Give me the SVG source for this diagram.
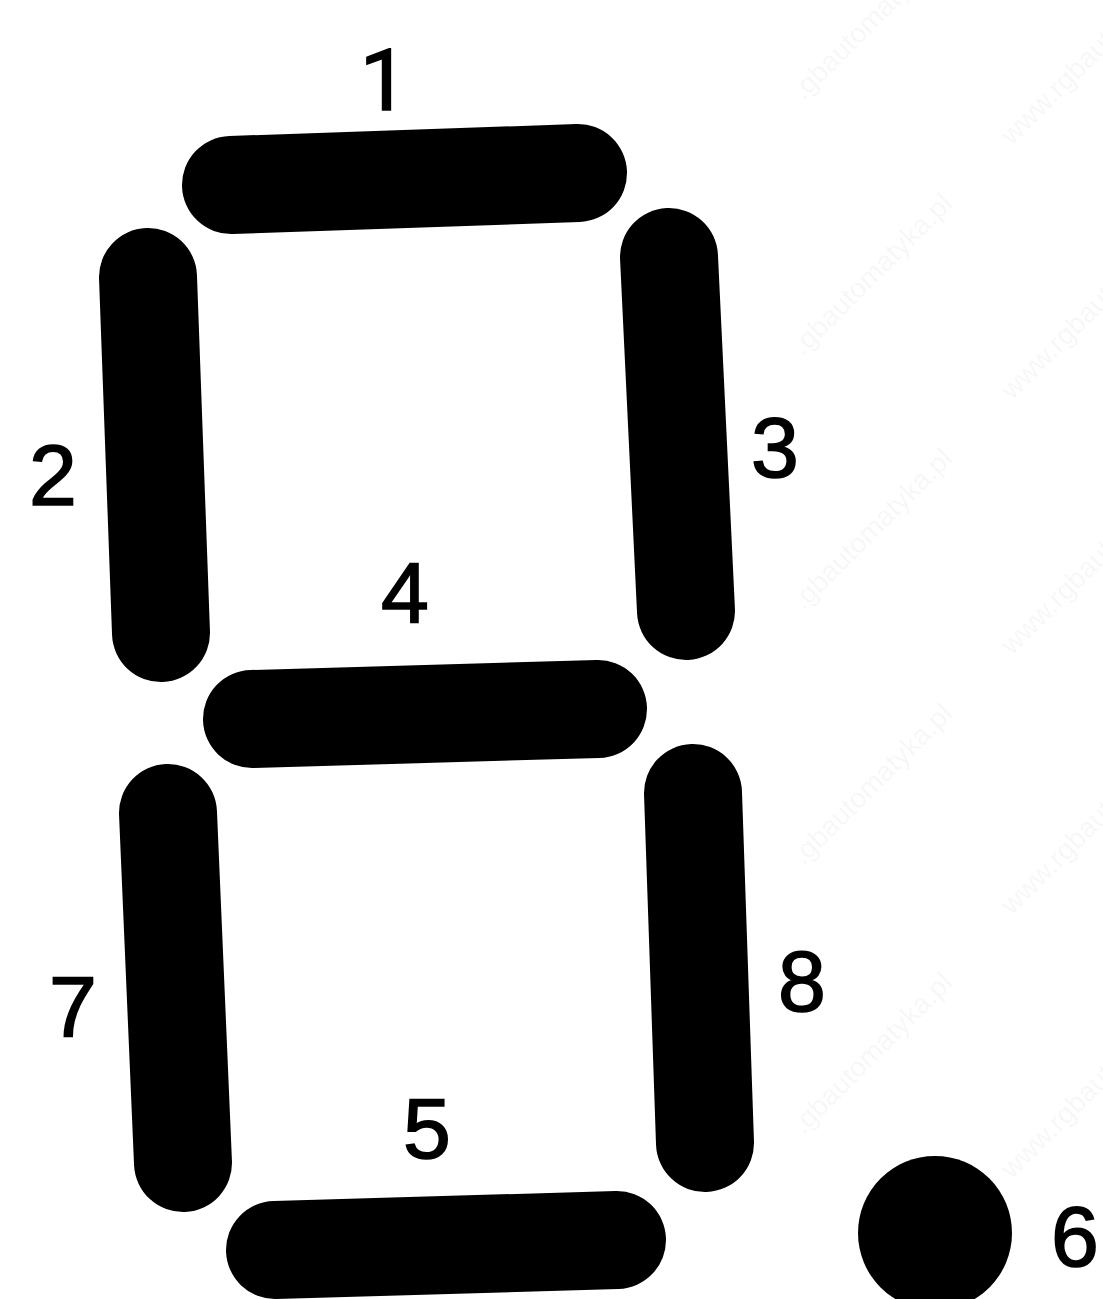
<svg xmlns="http://www.w3.org/2000/svg" width="1103" height="1299" viewBox="0 0 1103 1299">
<style>
.seg{fill:none;stroke:#000;stroke-width:98;stroke-linecap:round;stroke-linejoin:round}
.lbl{font-family:"Liberation Sans",Arial,sans-serif;font-size:86px;fill:#000;stroke:#000;stroke-width:1.6px;text-anchor:middle}
.one{font-family:Roboto,"Liberation Sans",sans-serif}
.wm{font-family:"Liberation Sans",Arial,sans-serif;font-size:28px;fill:#808080;fill-opacity:.07}
</style>
<rect width="1103" height="1299" fill="#fff"/>
<g id="seg1"><path class="seg" d="M231 185L578 173"/><text class="lbl one" x="384" y="110">1</text></g>
<g id="seg2"><path class="seg" d="M148 277L161 633"/><text class="lbl" x="53" y="505">2</text></g>
<g id="seg3"><path class="seg" d="M669 257L686 611"/><text class="lbl" x="775" y="477">3</text></g>
<g id="seg4"><path class="seg" d="M252 719L598 709"/><text class="lbl" x="405" y="622">4</text></g>
<g id="seg5"><path class="seg" d="M275 1250L617 1240"/><text class="lbl" x="427" y="1158">5</text></g>
<g id="dot6"><circle cx="935" cy="1233" r="77" fill="#000"/><text class="lbl" x="1075" y="1266">6</text></g>
<g id="seg7"><path class="seg" d="M168 813L183 1163"/><text class="lbl" x="73" y="1036">7</text></g>
<g id="seg8"><path class="seg" d="M693 793L705 1143"/><text class="lbl" x="802" y="1011">8</text></g>
<g id="watermarks">
<text class="wm" transform="translate(803 101) rotate(-45)">.gbautomatyka.pl</text>
<text class="wm" transform="translate(1012 146) rotate(-45)">www.rgbautomatyka.pl</text>
<text class="wm" transform="translate(803 356) rotate(-45)">.gbautomatyka.pl</text>
<text class="wm" transform="translate(1012 401) rotate(-45)">www.rgbautomatyka.pl</text>
<text class="wm" transform="translate(803 611) rotate(-45)">.gbautomatyka.pl</text>
<text class="wm" transform="translate(1012 656) rotate(-45)">www.rgbautomatyka.pl</text>
<text class="wm" transform="translate(803 866) rotate(-45)">.gbautomatyka.pl</text>
<text class="wm" transform="translate(1012 916) rotate(-45)">www.rgbautomatyka.pl</text>
<text class="wm" transform="translate(803 1135) rotate(-45)">.gbautomatyka.pl</text>
<text class="wm" transform="translate(1012 1180) rotate(-45)">www.rgbautomatyka.pl</text>
</g>
</svg>
